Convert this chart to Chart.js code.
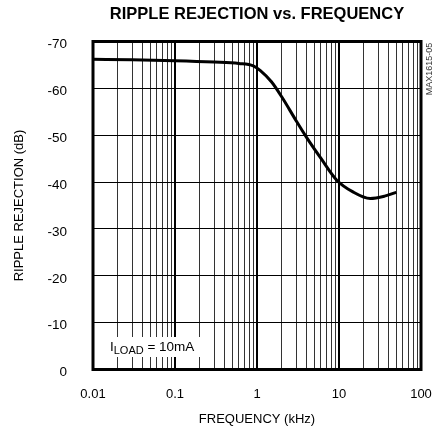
<!DOCTYPE html>
<html>
<head>
<meta charset="utf-8">
<script src="https://cdn.jsdelivr.net/npm/chart.js@4"></script>
<style>
  body { margin: 0; background: #fff; }
  #wrap { width: 438px; height: 433px; }
</style>
</head>
<body>
<div id="wrap"><canvas id="chart"></canvas></div>
<script>
// values (kHz, dB)
const frequency = [0.01, 0.03, 0.1, 0.3, 0.6, 0.9, 1.1, 1.5, 2, 3, 4, 6, 9.4, 14.8, 24, 36, 50];
const rejection = [-66.2, -66.1, -65.9, -65.6, -65.3, -64.8, -63.8, -61.4, -58.2, -53.1, -49.6, -45.1, -40.4, -37.9, -36.5, -37.0, -37.8];
const decadeLabels = ["0.01", "0.1", "1", "10", "100"];
const yTicks = [0, -10, -20, -30, -40, -50, -60, -70];

const FONT = "'Liberation Sans', Arial, sans-serif";

function isDecade(v) {
  const l = Math.log10(v);
  return Math.abs(l - Math.round(l)) < 1e-6;
}

// frame, title, load note and part code
const extras = {
  id: "extras",
  afterDatasetsDraw(chart) {
    const { ctx, chartArea: a } = chart;
    ctx.save();

    // I_LOAD note on white box
    ctx.fillStyle = "#fff";
    ctx.fillRect(106, 337, 97, 20);
    ctx.fillStyle = "#000";
    ctx.textBaseline = "middle";
    ctx.textAlign = "left";
    ctx.font = "13.5px " + FONT;
    let x = 110;
    ctx.fillText("I", x, 347);
    x += ctx.measureText("I").width;
    ctx.font = "11px " + FONT;
    ctx.fillText("LOAD", x, 350.5);
    x += ctx.measureText("LOAD").width;
    ctx.font = "13.5px " + FONT;
    ctx.fillText(" = 10mA", x, 347);

    // heavy frame
    ctx.lineWidth = 3;
    ctx.strokeStyle = "#000";
    ctx.strokeRect(a.left, a.top, a.right - a.left, a.bottom - a.top);

    // title
    ctx.font = "bold 16.5px " + FONT;
    ctx.textAlign = "center";
    ctx.fillText("RIPPLE REJECTION vs. FREQUENCY", (a.left + a.right) / 2, 14);

    // part code on the right edge
    ctx.translate(430, 69);
    ctx.rotate(-Math.PI / 2);
    ctx.font = "9px " + FONT;
    ctx.fillStyle = "#333";
    ctx.fillText("MAX1615-05", 0, 0);
    ctx.restore();
  }
};

new Chart(document.getElementById("chart"), {
  type: "scatter",
  data: {
    datasets: [{
      data: frequency.map((f, i) => ({ x: f, y: rejection[i] })),
      showLine: true,
      borderColor: "#000",
      borderWidth: 3,
      pointRadius: 0,
      cubicInterpolationMode: "monotone",
      fill: false
    }]
  },
  options: {
    responsive: true,
    maintainAspectRatio: false,
    animation: false,
    layout: { padding: { top: 41.5, right: 17, bottom: 0, left: 0 } },
    plugins: { legend: { display: false }, tooltip: { enabled: false } },
    scales: {
      x: {
        type: "logarithmic",
        min: 0.01,
        max: 100,
        afterBuildTicks(scale) {
          const t = [];
          for (let d = -2; d <= 1; d++) {
            for (let m = 1; m <= 9; m++) t.push({ value: m * Math.pow(10, d) });
          }
          t.push({ value: 100 });
          scale.ticks = t;
        },
        afterFit(scale) {
          scale.height = 63.5;
          scale.paddingLeft = 0;
          scale.paddingRight = 0;
        },
        ticks: {
          autoSkip: false,
          maxRotation: 0,
          padding: 17,
          color: "#000",
          font: { family: FONT, size: 13 },
          callback(v) {
            if (!isDecade(v)) return "";
            return decadeLabels[Math.round(Math.log10(v)) + 2];
          }
        },
        grid: {
          drawTicks: false,
          color: ctx => (ctx.tick && isDecade(ctx.tick.value)) ? "#000" : "#333",
          lineWidth: ctx => (ctx.tick && isDecade(ctx.tick.value)) ? 2 : 1
        },
        border: { display: false },
        title: {
          display: true,
          text: "FREQUENCY (kHz)",
          color: "#000",
          font: { family: FONT, size: 13 },
          padding: { top: 0, bottom: 6 }
        }
      },
      y: {
        min: -70,
        max: 0,
        reverse: true,
        afterBuildTicks(scale) {
          scale.ticks = yTicks.map(v => ({ value: v }));
        },
        afterFit(scale) {
          scale.width = 93;
          scale.paddingTop = 0;
          scale.paddingBottom = 0;
        },
        ticks: {
          padding: 26,
          labelOffset: 3,
          color: "#000",
          font: { family: FONT, size: 13.5 }
        },
        grid: { drawTicks: false, color: "#000", lineWidth: 1 },
        border: { display: false },
        title: {
          display: true,
          text: "RIPPLE REJECTION (dB)",
          color: "#000",
          font: { family: FONT, size: 13 },
          padding: { top: 12, bottom: 0 }
        }
      }
    }
  },
  plugins: [extras]
});
</script>
</body>
</html>
